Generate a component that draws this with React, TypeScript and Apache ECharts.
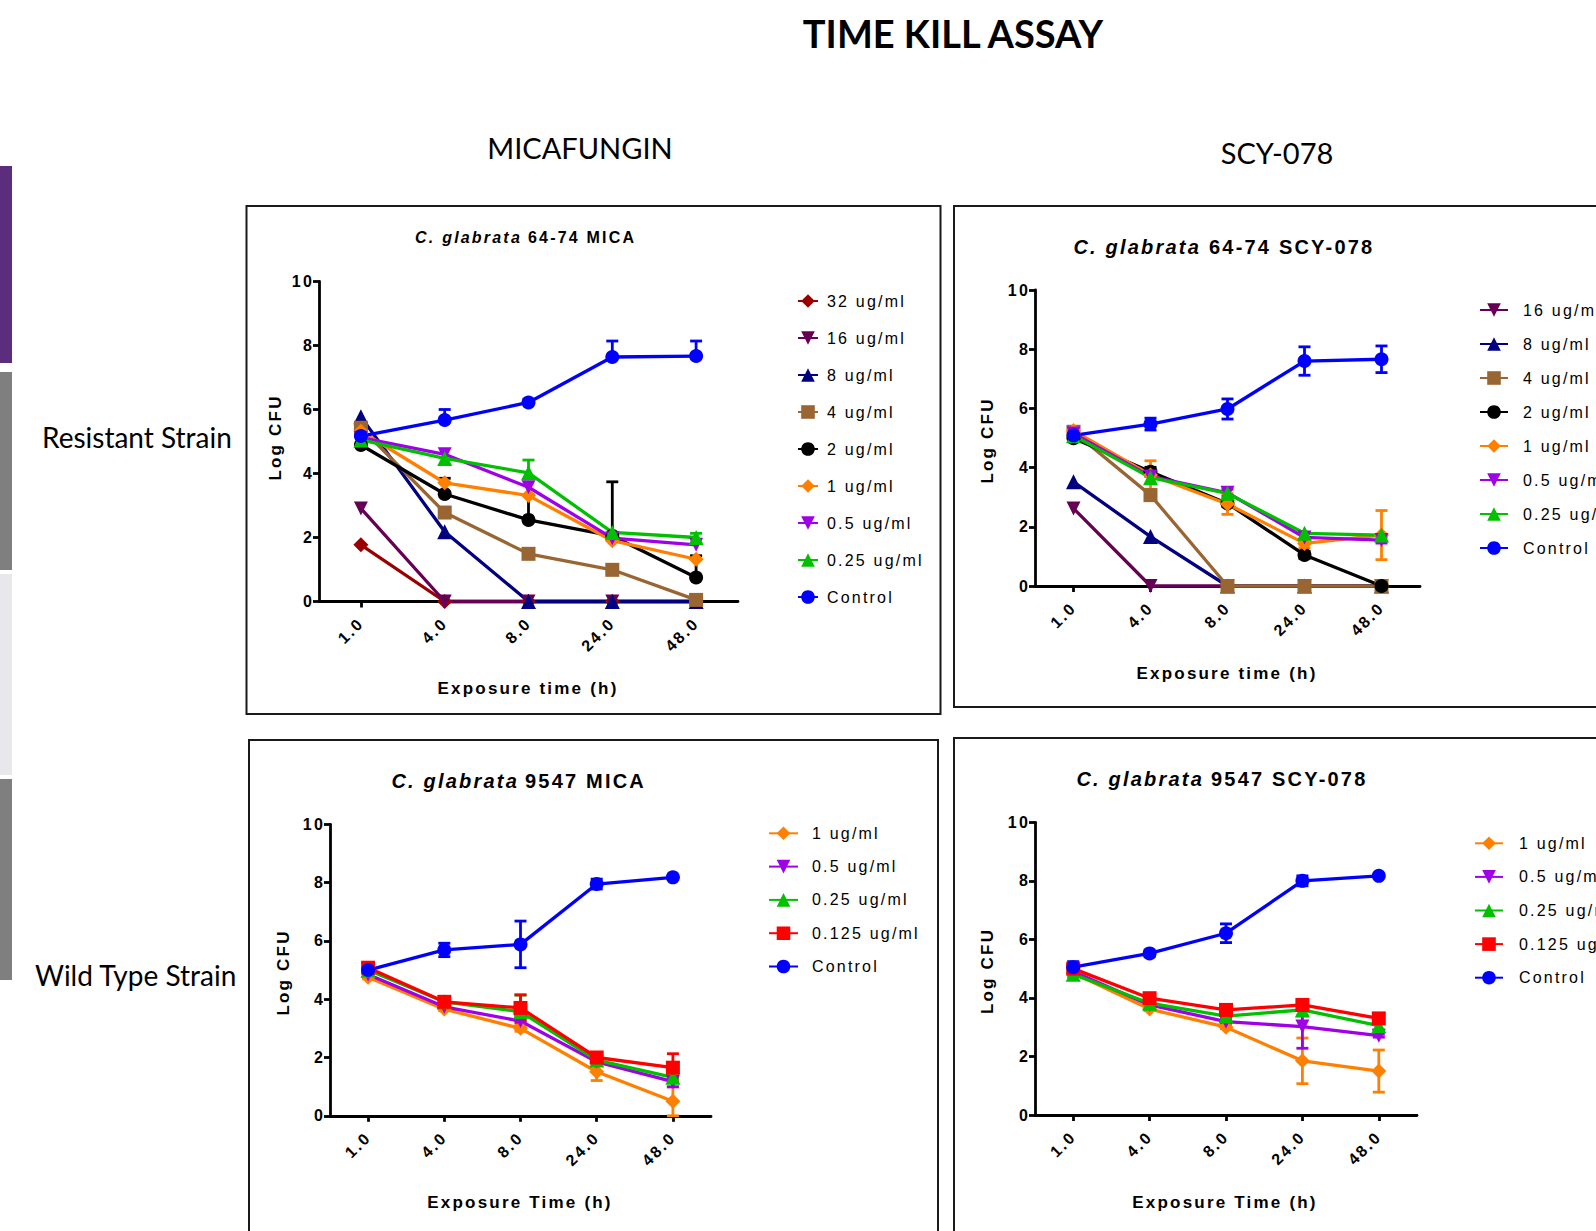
import React, { useEffect, useRef } from "react";
import * as echarts from "echarts";

// ---------- data ----------
const TIMES = ["1.0", "4.0", "8.0", "24.0", "48.0"];

// Panel A: C. glabrata 64-74 MICA (resistant, micafungin)
const A_32 = [1.77, 0, 0, 0, 0];
const A_16 = [2.91, 0, 0, 0, 0];
const A_8 = [5.77, 2.18, 0, 0, 0];
const A_4 = [5.43, 2.78, 1.49, 0.99, 0.05];
const A_2 = [4.89, 3.36, 2.55, 2.05, 0.75];
const A_1 = [5.32, 3.71, 3.31, 1.9, 1.32];
const A_05 = [5.12, 4.6, 3.57, 1.98, 1.77];
const A_025 = [5.05, 4.47, 4.02, 2.16, 2.0];
const A_CTRL = [5.17, 5.67, 6.22, 7.64, 7.67];
// upper error-bar ends (only "above" bars shown in this panel)
const A_2_UP = [null, 3.85, 3.33, 3.74, 1.43];
const A_025_UP = [null, null, 4.42, null, 2.13];
const A_CTRL_UP = [null, 6.0, 6.32, 8.14, 8.14];

// Panel B: C. glabrata 64-74 SCY-078
const B_16 = [2.62, 0, 0, 0, 0];
const B_8 = [3.52, 1.67, 0, 0, 0];
const B_4 = [5.21, 3.07, 0, 0, 0];
const B_2 = [4.99, 3.86, 2.79, 1.05, 0];
const B_1 = [5.25, 3.75, 2.77, 1.44, 1.72];
const B_05 = [5.15, 3.7, 3.15, 1.64, 1.55];
const B_025 = [5.08, 3.66, 3.13, 1.78, 1.72];
const B_CTRL = [5.09, 5.47, 5.98, 7.6, 7.66];
const B_2_SD = [null, 0.15, 0.1, 0.12, null];
const B_1_SD = [null, 0.48, 0.35, 0.15, 0.83];
const B_05_SD = [null, null, 0.12, null, 0.1];
const B_CTRL_SD = [0.1, 0.2, 0.34, 0.48, 0.45];

// Panel C: C. glabrata 9547 MICA (wild type)
const C_1 = [4.75, 3.66, 3.0, 1.51, 0.5];
const C_05 = [4.85, 3.74, 3.25, 1.85, 1.17];
const C_025 = [5.0, 3.91, 3.57, 1.91, 1.32];
const C_0125 = [5.08, 3.91, 3.7, 2.0, 1.65];
const C_CTRL = [5.0, 5.69, 5.88, 7.95, 8.18];
const C_1_SD = [0.05, 0.05, 0.1, 0.3, 0.5];
const C_05_SD = [null, null, 0.05, null, 0.18];
const C_025_SD = [null, 0.1, 0.57, 0.08, 0.05];
const C_0125_SD = [0.1, 0.05, 0.45, 0.05, 0.48];
const C_CTRL_SD = [0.18, 0.23, 0.8, 0.17, 0.06];

// Panel D: C. glabrata 9547 SCY-078
const D_1 = [4.85, 3.62, 3.0, 1.85, 1.5];
const D_05 = [4.9, 3.76, 3.19, 3.02, 2.71];
const D_025 = [4.81, 3.82, 3.38, 3.59, 3.05];
const D_0125 = [5.0, 3.99, 3.59, 3.76, 3.3];
const D_CTRL = [5.05, 5.52, 6.21, 8.0, 8.17];
const D_1_SD = [null, 0.05, 0.05, 0.78, 0.72];
const D_05_SD = [null, 0.05, 0.05, 0.74, 0.05];
const D_025_SD = [0.08, 0.05, 0.05, 0.2, 0.15];
const D_0125_SD = [0.1, 0.05, 0.1, 0.08, 0.1];
const D_CTRL_SD = [0.19, 0.1, 0.32, 0.17, 0.05];

// ---------- styles ----------
const DOWN = "path://M0,0L10,0L5,10Z";
const STY: Record<string, { color: string; symbol: string; size: number }> = {
  "32 ug/ml": { color: "#9B0000", symbol: "diamond", size: 15 },
  "16 ug/ml": { color: "#660055", symbol: DOWN, size: 14 },
  "8 ug/ml": { color: "#000080", symbol: "triangle", size: 15 },
  "4 ug/ml": { color: "#996633", symbol: "rect", size: 14 },
  "2 ug/ml": { color: "#000000", symbol: "circle", size: 14 },
  "1 ug/ml": { color: "#FF8000", symbol: "diamond", size: 15 },
  "0.5 ug/ml": { color: "#A000E8", symbol: DOWN, size: 14 },
  "0.25 ug/ml": { color: "#00C000", symbol: "triangle", size: 15 },
  "0.125 ug/ml": { color: "#FF0000", symbol: "rect", size: 14 },
  Control: { color: "#0000FF", symbol: "circle", size: 14 },
};

const PRISM = "Liberation Sans";
const SLIDE = "Lato";

type SeriesDef = { name: string; values: number[]; err?: (number | null)[]; upperOnly?: boolean };

const PANELS = [
  {
    grid: { left: 319, top: 281.5, width: 419, height: 320 },
    legend: { left: 797, top: 292.5, gap: 20, iw: 20, pad: 4 },
    title: { it: "C. glabrata", bd: "64-74 MICA", xi: 522, xb: 528, y: 237.5, fs: 16 },
    xName: { text: "Exposure time (h)", x: 528, y: 688 },
    yName: { x: 275, y: 437.5 },
    series: [
      { name: "32 ug/ml", values: A_32 },
      { name: "16 ug/ml", values: A_16 },
      { name: "8 ug/ml", values: A_8 },
      { name: "4 ug/ml", values: A_4 },
      { name: "2 ug/ml", values: A_2, err: A_2_UP, upperOnly: true },
      { name: "1 ug/ml", values: A_1 },
      { name: "0.5 ug/ml", values: A_05 },
      { name: "0.25 ug/ml", values: A_025, err: A_025_UP, upperOnly: true },
      { name: "Control", values: A_CTRL, err: A_CTRL_UP, upperOnly: true },
    ] as SeriesDef[],
  },
  {
    grid: { left: 1035, top: 290, width: 385, height: 296 },
    legend: { left: 1479, top: 301.5, gap: 17, iw: 28, pad: 10 },
    title: { it: "C. glabrata", bd: "64-74 SCY-078", xi: 1201, xb: 1209, y: 246.7, fs: 20 },
    xName: { text: "Exposure time (h)", x: 1227, y: 673 },
    yName: { x: 987, y: 440.5 },
    series: [
      { name: "16 ug/ml", values: B_16 },
      { name: "8 ug/ml", values: B_8 },
      { name: "4 ug/ml", values: B_4 },
      { name: "2 ug/ml", values: B_2, err: B_2_SD },
      { name: "1 ug/ml", values: B_1, err: B_1_SD },
      { name: "0.5 ug/ml", values: B_05, err: B_05_SD },
      { name: "0.25 ug/ml", values: B_025 },
      { name: "Control", values: B_CTRL, err: B_CTRL_SD },
    ] as SeriesDef[],
  },
  {
    grid: { left: 330, top: 824.3, width: 381, height: 291.5 },
    legend: { left: 768, top: 824.8, gap: 16.3, iw: 29, pad: 9 },
    title: { it: "C. glabrata", bd: "9547 MICA", xi: 519, xb: 525, y: 780.5, fs: 20 },
    xName: { text: "Exposure Time (h)", x: 520, y: 1202 },
    yName: { x: 283, y: 972.5 },
    series: [
      { name: "1 ug/ml", values: C_1, err: C_1_SD },
      { name: "0.5 ug/ml", values: C_05, err: C_05_SD },
      { name: "0.25 ug/ml", values: C_025, err: C_025_SD },
      { name: "0.125 ug/ml", values: C_0125, err: C_0125_SD },
      { name: "Control", values: C_CTRL, err: C_CTRL_SD },
    ] as SeriesDef[],
  },
  {
    grid: { left: 1035, top: 822.3, width: 382, height: 292.7 },
    legend: { left: 1474, top: 834.8, gap: 16.6, iw: 28, pad: 11 },
    title: { it: "C. glabrata", bd: "9547 SCY-078", xi: 1204, xb: 1211, y: 779, fs: 20 },
    xName: { text: "Exposure Time (h)", x: 1225, y: 1202 },
    yName: { x: 987, y: 971 },
    series: [
      { name: "1 ug/ml", values: D_1, err: D_1_SD },
      { name: "0.5 ug/ml", values: D_05, err: D_05_SD },
      { name: "0.25 ug/ml", values: D_025, err: D_025_SD },
      { name: "0.125 ug/ml", values: D_0125, err: D_0125_SD },
      { name: "Control", values: D_CTRL, err: D_CTRL_SD },
    ] as SeriesDef[],
  },
];

const BOXES = [
  { x: 246.5, y: 206, w: 694, h: 508 },
  { x: 954, y: 206, w: 700, h: 501 },
  { x: 249, y: 740, w: 689, h: 600 },
  { x: 954, y: 738, w: 700, h: 600 },
];

const SIDE_BARS = [
  { y: 166, h: 197, color: "#5C2D7C" },
  { y: 372, h: 198, color: "#7F7F7F" },
  { y: 574, h: 201, color: "#E8E7EC" },
  { y: 779, h: 201, color: "#7F7F7F" },
];

function errSeries(def: SeriesDef, gi: number) {
  const color = STY[def.name].color;
  const data: number[][] = [];
  def.values.forEach((v, i) => {
    const e = def.err ? def.err[i] : null;
    if (e == null) return;
    if (def.upperOnly) data.push([i, v, e, 0]);
    else data.push([i, Math.max(0, v - e), v + e, 1]);
  });
  return {
    type: "custom",
    name: def.name + " SD",
    xAxisIndex: gi,
    yAxisIndex: gi,
    data,
    z: 3,
    silent: true,
    clip: false,
    encode: { x: 0, y: [1, 2] },
    renderItem: (_p: any, api: any) => {
      const i = api.value(0);
      const lo = api.value(1);
      const hi = api.value(2);
      const both = api.value(3);
      const a = api.coord([i, lo]);
      const b = api.coord([i, hi]);
      const st = { stroke: color, lineWidth: 2.8, fill: "none" };
      const w = 6;
      const ch: any[] = [
        { type: "line", shape: { x1: a[0], y1: a[1], x2: b[0], y2: b[1] }, style: st },
        { type: "line", shape: { x1: b[0] - w, y1: b[1], x2: b[0] + w, y2: b[1] }, style: st },
      ];
      if (both) ch.push({ type: "line", shape: { x1: a[0] - w, y1: a[1], x2: a[0] + w, y2: a[1] }, style: st });
      return { type: "group", children: ch };
    },
  };
}

function buildOption() {
  const grid: any[] = [];
  const xAxis: any[] = [];
  const yAxis: any[] = [];
  const legend: any[] = [];
  const series: any[] = [];
  const graphic: any[] = [];

  const axisLine = { show: true, lineStyle: { color: "#000", width: 2.8 } };
  const axisTick = { show: true, length: 6, lineStyle: { color: "#000", width: 2.8 } };
  const labelStyle = { color: "#000", fontWeight: "bold", fontSize: 16, fontFamily: PRISM };

  PANELS.forEach((p, gi) => {
    grid.push({ ...p.grid, containLabel: false });
    xAxis.push({
      type: "category",
      gridIndex: gi,
      data: TIMES,
      boundaryGap: true,
      axisLine,
      axisTick: { ...axisTick, alignWithLabel: true },
      axisLabel: { ...labelStyle, rotate: 45, margin: 19, interval: 0 },
      splitLine: { show: false },
    });
    yAxis.push({
      type: "value",
      gridIndex: gi,
      min: 0,
      max: 10,
      interval: 2,
      axisLine,
      axisTick,
      axisLabel: { ...labelStyle, margin: 5 },
      splitLine: { show: false },
    });
    legend.push({
      orient: "vertical",
      left: p.legend.left,
      top: p.legend.top,
      itemGap: p.legend.gap,
      itemWidth: p.legend.iw,
      itemHeight: 17,
      padding: 0,
      selectedMode: false,
      data: p.series.map((s) => s.name),
      textStyle: {
        fontFamily: PRISM,
        fontSize: 16,
        color: "#000",
        lineHeight: 17,
        padding: [0, 0, 0, p.legend.pad],
      },
    });
    p.series.forEach((s) => {
      if (s.err) series.push(errSeries(s, gi));
    });
    p.series.forEach((s) => {
      const st = STY[s.name];
      series.push({
        type: "line",
        name: s.name,
        xAxisIndex: gi,
        yAxisIndex: gi,
        data: s.values,
        symbol: st.symbol,
        symbolSize: st.size,
        showAllSymbol: true,
        clip: false,
        silent: true,
        z: 4,
        itemStyle: { color: st.color, borderWidth: 0 },
        lineStyle: { color: st.color, width: 3.3 },
      });
    });

    // panel title (italic species + bold strain)
    graphic.push({
      type: "text",
      x: p.title.xi,
      y: p.title.y,
      style: {
        text: p.title.it,
        fontFamily: PRISM,
        fontSize: p.title.fs,
        fontWeight: "bold",
        fontStyle: "italic",
        fill: "#000",
        align: "right",
        verticalAlign: "middle",
      },
    });
    graphic.push({
      type: "text",
      x: p.title.xb,
      y: p.title.y,
      style: {
        text: p.title.bd,
        fontFamily: PRISM,
        fontSize: p.title.fs,
        fontWeight: "bold",
        fill: "#000",
        align: "left",
        verticalAlign: "middle",
      },
    });
    graphic.push({
      type: "text",
      x: p.xName.x,
      y: p.xName.y,
      style: {
        text: p.xName.text,
        fontFamily: PRISM,
        fontSize: 17,
        fontWeight: "bold",
        fill: "#000",
        align: "center",
        verticalAlign: "middle",
      },
    });
    graphic.push({
      type: "text",
      x: p.yName.x,
      y: p.yName.y,
      rotation: Math.PI / 2,
      style: {
        text: "Log CFU",
        fontFamily: PRISM,
        fontSize: 17,
        fontWeight: "bold",
        fill: "#000",
        align: "center",
        verticalAlign: "middle",
      },
    });
  });

  BOXES.forEach((b) => {
    graphic.push({
      type: "rect",
      shape: { x: b.x, y: b.y, width: b.w, height: b.h },
      style: { fill: "none", stroke: "#1a1a1a", lineWidth: 2 },
      silent: true,
    });
  });
  SIDE_BARS.forEach((b) => {
    graphic.push({
      type: "rect",
      shape: { x: 0, y: b.y, width: 12, height: b.h },
      style: { fill: b.color },
      silent: true,
    });
  });

  const slideText = (text: string, x: number, y: number, size: number, bold: boolean, align: string) => ({
    type: "text",
    x,
    y,
    style: {
      text,
      fontFamily: SLIDE,
      fontSize: size,
      fontWeight: bold ? "bold" : "normal",
      fill: "#000",
      align,
      verticalAlign: "middle",
    },
  });
  graphic.push(slideText("TIME KILL ASSAY", 953, 33, 38, true, "center"));
  graphic.push(slideText("MICAFUNGIN", 580, 147, 29, false, "center"));
  graphic.push(slideText("SCY-078", 1277, 152, 29, false, "center"));
  graphic.push(slideText("Resistant Strain", 42, 437, 28, false, "left"));
  graphic.push(slideText("Wild Type Strain", 35, 975, 28, false, "left"));

  return {
    animation: false,
    backgroundColor: "#ffffff",
    grid,
    xAxis,
    yAxis,
    legend,
    series,
    graphic,
  };
}

export default function App() {
  const ref = useRef<HTMLDivElement>(null);
  useEffect(() => {
    const el = ref.current;
    if (!el) return;
    const chart = echarts.init(el, null, { renderer: "svg", width: 1596, height: 1231 });
    chart.setOption(buildOption() as any);
    const track = () => {
      el.querySelectorAll("text").forEach((t) => {
        if (t.outerHTML.indexOf("Liberation") >= 0) t.setAttribute("letter-spacing", "2.2");
      });
    };
    track();
    chart.on("finished", track);
    const id = window.setTimeout(track, 30);
    return () => {
      window.clearTimeout(id);
      chart.dispose();
    };
  }, []);
  return (
    <div
      ref={ref}
      style={{ position: "fixed", left: 0, top: 0, width: 1596, height: 1231, background: "#fff", overflow: "hidden" }}
    />
  );
}
